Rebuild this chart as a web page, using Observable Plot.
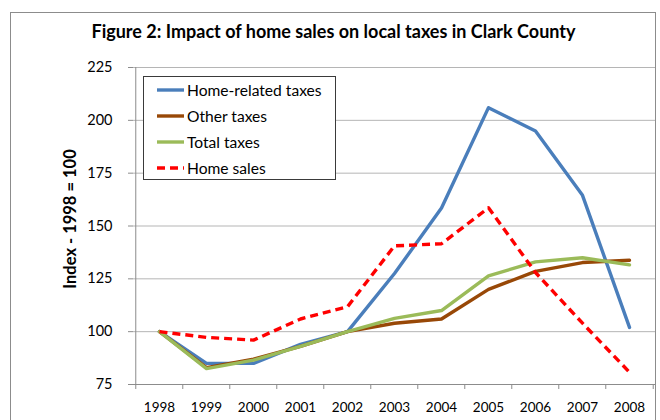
<!DOCTYPE html>
<html>
<head>
<meta charset="utf-8">
<script src="https://cdn.jsdelivr.net/npm/d3@7"></script>
<script src="https://cdn.jsdelivr.net/npm/@observablehq/plot@0.6"></script>
<style>
  html, body { margin: 0; padding: 0; background: #fff; }
  #wrap { position: relative; width: 660px; height: 420px; overflow: hidden; font-family: Lato, "Open Sans", sans-serif; }
  #border { position: absolute; left: 10px; top: 12px; width: 646px; height: 440px; border: 1px solid #8c8c8c; box-sizing: border-box; }
  #title { position: absolute; left: 0; width: 667px; top: 20px; text-align: center; font-weight: bold; font-size: 18px; color: #000; white-space: nowrap; }
  #ylabel { position: absolute; left: 70px; top: 219px; transform: translate(-50%, -50%) rotate(-90deg); font-weight: bold; font-size: 16.5px; white-space: nowrap; color: #000; }
  #legend { position: absolute; left: 143px; top: 76px; width: 193px; height: 104px; border: 1px solid #3a3a3a; background: #fff; box-sizing: border-box; }
  .row { position: absolute; left: 13px; height: 20px; display: flex; align-items: center; font-size: 15.6px; color: #000; white-space: nowrap; }
  .row svg { margin-right: 3px; }
  #chart { position: absolute; left: 0; top: 0; }
</style>
</head>
<body>
<div id="wrap">
  <div id="border"></div>
  <div id="chart"></div>
  <div id="title"></div>
  <div id="ylabel"></div>
  <div id="legend"></div>
</div>
<script>
const titleText = "Figure 2: Impact of home sales on local taxes in Clark County";
const yLabelText = "Index - 1998 = 100";
const years = ["1998","1999","2000","2001","2002","2003","2004","2005","2006","2007","2008"];
const yTicks = [75, 100, 125, 150, 175, 200, 225];
const seriesNames = ["Home-related taxes", "Other taxes", "Total taxes", "Home sales"];
const seriesColors = ["#4a7ebb", "#984807", "#9bbb59", "#ff0000"];
const homeRelated = [100, 85, 85, 94, 100, 127.5, 158.5, 206, 195, 164.5, 102];
const otherTaxes  = [100, 83, 87, 93, 100, 104, 106, 120, 128.5, 132.7, 133.8];
const totalTaxes  = [100, 82.5, 86.5, 93, 100, 106.3, 110, 126.4, 133, 135, 131.6];
const homeSales   = [100, 97.3, 96, 106, 111.8, 140.6, 141.6, 158.6, 128, 104, 80.8];

const seriesValues = [homeRelated, otherTaxes, totalTaxes, homeSales];
const data = [];
seriesNames.forEach((name, s) => {
  years.forEach((yr, i) => data.push({year: yr, value: seriesValues[s][i], series: name}));
});

document.getElementById("title").textContent = titleText;
document.getElementById("ylabel").textContent = yLabelText;

const step = (660 - 133 - 5) / years.length;

const lineMarks = seriesNames.map((name, s) =>
  Plot.line(data.filter(d => d.series === name), {
    x: "year", y: "value",
    stroke: seriesColors[s],
    strokeWidth: 3.4,
    strokeDasharray: name === "Home sales" ? "8,5" : null,
    strokeLinejoin: "round",
    strokeLinecap: name === "Home sales" ? "butt" : "round"
  })
);

const chart = Plot.plot({
  width: 660,
  height: 420,
  marginLeft: 133,
  marginRight: 5,
  marginTop: 67,
  marginBottom: 36,
  style: {fontFamily: "Lato, 'Open Sans', sans-serif", background: "transparent", color: "#000"},
  x: {type: "point", domain: years, padding: 0.5, axis: null},
  y: {domain: [75, 225], axis: null},
  marks: [
    Plot.ruleY(yTicks.slice(1), {stroke: "#b5b5b5", strokeWidth: 1}),
    Plot.ruleY([75], {stroke: "#8c8c8c", strokeWidth: 1}),
    Plot.ruleX([years[0]], {dx: -step / 2, y1: 75, y2: 225, stroke: "#8c8c8c", strokeWidth: 1}),
    Plot.axisY(yTicks, {tickSize: 5, tickPadding: 16, fontSize: 14.5, label: null, stroke: "#8c8c8c"}),
    Plot.axisX(years, {tickSize: 5, tickFormat: () => "", dx: -step / 2, label: null, stroke: "#8c8c8c"}),
    Plot.axisX([years[years.length - 1]], {tickSize: 5, tickFormat: () => "", dx: step / 2, label: null, stroke: "#8c8c8c"}),
    Plot.axisX(years, {tickSize: 0, tickPadding: 18, fontSize: 13.5, label: null}),
    ...lineMarks
  ]
});
document.getElementById("chart").appendChild(chart);

const legend = document.getElementById("legend");
seriesNames.forEach((name, s) => {
  const row = document.createElement("div");
  row.className = "row";
  row.style.top = (3 + s * 26) + "px";
  const dash = name === "Home sales" ? ' stroke-dasharray="8,5"' : '';
  row.innerHTML = `<svg width="27" height="6"><line x1="0" y1="3" x2="27" y2="3" stroke="${seriesColors[s]}" stroke-width="3.4"${dash}/></svg><span></span>`;
  row.querySelector("span").textContent = name;
  legend.appendChild(row);
});
</script>
</body>
</html>
